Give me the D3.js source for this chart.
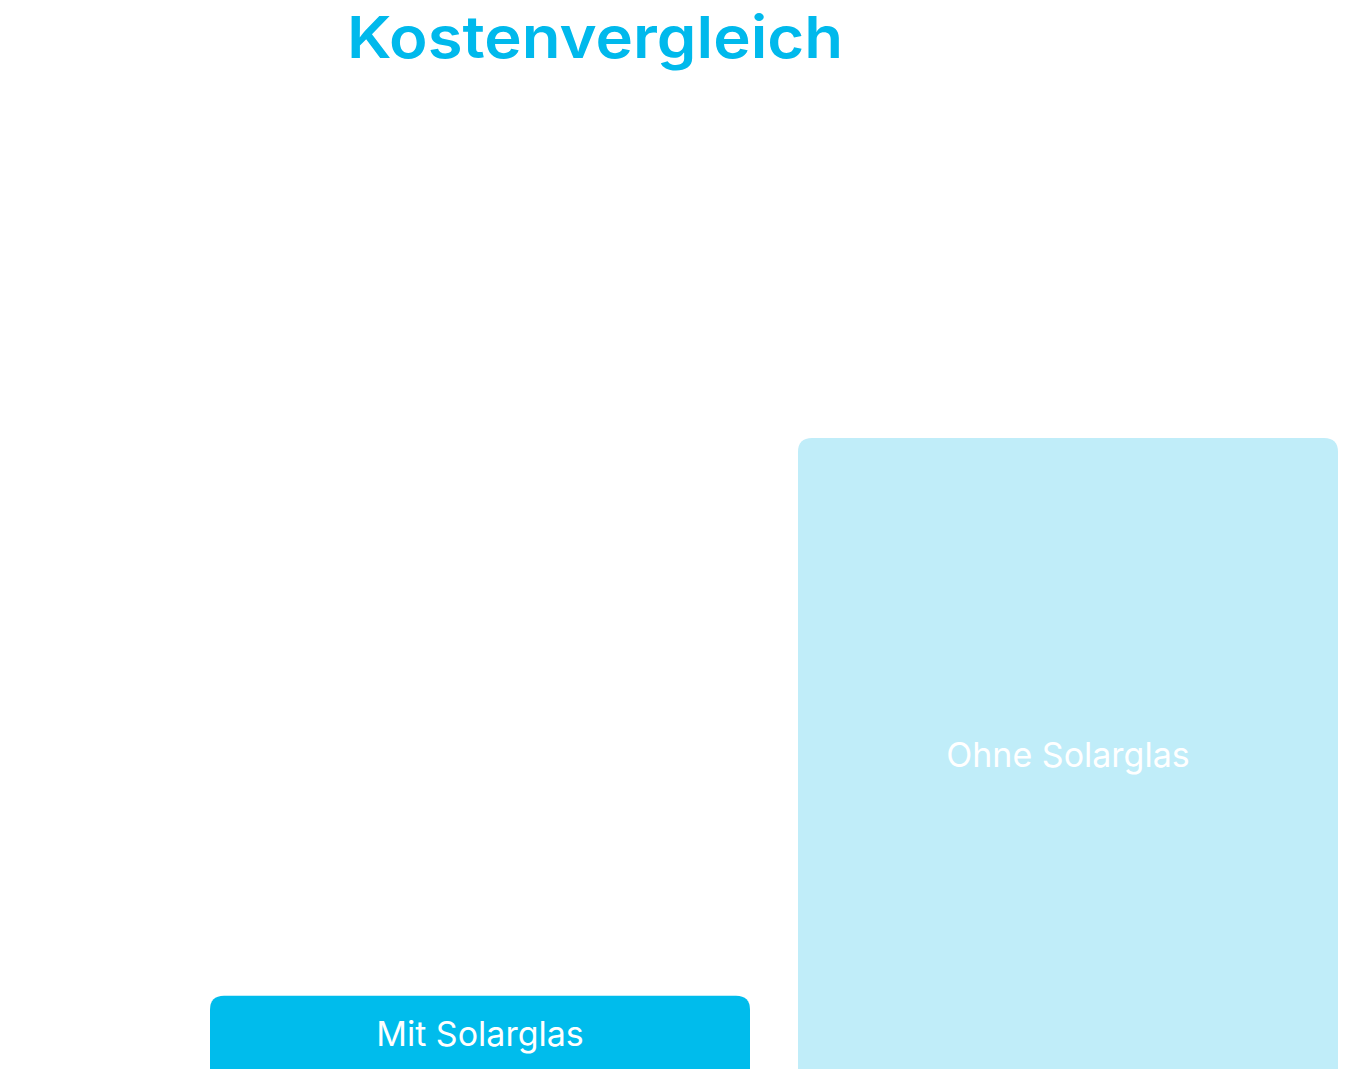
<!DOCTYPE html>
<html>
<head>
<meta charset="utf-8">
<script src="https://cdn.jsdelivr.net/npm/d3@7"></script>
<style>
  body { margin: 0; background: #fff; }
</style>
</head>
<body>
<svg id="chart"></svg>
<script>
// Data
const categories = ["Mit Solarglas", "Ohne Solarglas"];
const costValues = [11.6, 100];
const barColors = ["#00bcec", "#c0edf9"];

const width = 1364;
const height = 1083;
const margin = { top: 438, right: 26, bottom: 14, left: 210 };

const svg = d3.select("#chart")
    .attr("width", width)
    .attr("height", height);

// Title
svg.append("text")
    .attr("x", 595)
    .attr("y", 58)
    .attr("text-anchor", "middle")
    .style("font-family", "Inter, 'Open Sans', sans-serif")
    .style("font-size", "58px")
    .style("font-weight", "600")
    .style("fill", "#00b9ec")
    .attr("textLength", 496)
    .attr("lengthAdjust", "spacingAndGlyphs")
    .text("Kostenvergleich");

const xScale = d3.scaleBand()
    .domain(categories)
    .range([margin.left, width - margin.right])
    .paddingInner(48 / 588)
    .paddingOuter(0);

const yScale = d3.scaleLinear()
    .domain([0, d3.max(costValues)])
    .range([height - margin.bottom, margin.top]);

const r = 14;
function topRoundedBar(x, y, w, h) {
    const rr = Math.min(r, h, w / 2);
    return `M${x},${y + h}V${y + rr}Q${x},${y} ${x + rr},${y}` +
        `H${x + w - rr}Q${x + w},${y} ${x + w},${y + rr}V${y + h}Z`;
}

const data = categories.map((c, i) => ({ name: c, value: costValues[i], color: barColors[i] }));

const bars = svg.selectAll(".bar")
    .data(data)
    .enter().append("g")
    .attr("class", "bar");

bars.append("path")
    .attr("d", d => {
        const y = yScale(d.value);
        return topRoundedBar(xScale(d.name), y, xScale.bandwidth(), yScale(0) - y);
    })
    .attr("fill", d => d.color);

bars.append("text")
    .attr("x", d => xScale(d.name) + xScale.bandwidth() / 2)
    .attr("y", d => (yScale(d.value) + yScale(0)) / 2 + 2)
    .attr("dy", "0.35em")
    .attr("text-anchor", "middle")
    .style("font-family", "Inter, 'Open Sans', sans-serif")
    .style("font-size", "34px")
    .style("font-weight", "400")
    .style("fill", "#ffffff")
    .text(d => d.name);
</script>
</body>
</html>
